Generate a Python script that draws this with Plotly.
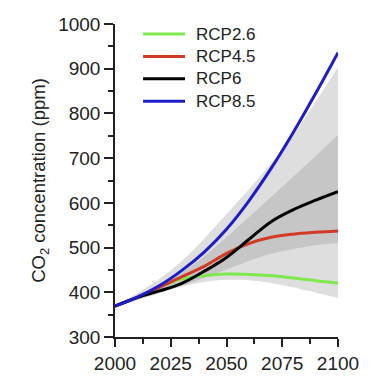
import plotly.graph_objects as go

years = [2000, 2010, 2020, 2030, 2040, 2050, 2060, 2070, 2080, 2090, 2100]

rcp26 = [369, 389, 412, 430, 437, 441, 440, 437, 432, 426, 421]
rcp45 = [369, 389, 411, 435, 458, 487, 509, 523, 530, 534, 537]
rcp60 = [369, 388, 403, 420, 447, 478, 518, 558, 585, 606, 625]
rcp85 = [369, 389, 415, 449, 490, 541, 604, 677, 758, 845, 936]

outer_upper = [372, 398, 430, 470, 520, 575, 630, 688, 752, 826, 904]
outer_lower = [366, 382, 398, 413, 423, 428, 427, 421, 411, 399, 387]
inner_upper = [370, 392, 416, 444, 480, 523, 568, 613, 659, 705, 752]
inner_lower = [368, 385, 400, 415, 432, 451, 470, 486, 497, 505, 510]

names = ["RCP2.6", "RCP4.5", "RCP6", "RCP8.5"]
series = [rcp26, rcp45, rcp60, rcp85]
colors = ["#7ee84c", "#d23a26", "#000000", "#1c1ccc"]

fig = go.Figure()

def band(lower, upper, color):
    fig.add_trace(go.Scatter(x=years, y=lower, mode="lines",
                             line=dict(width=0, shape="spline", smoothing=0.8),
                             showlegend=False, hoverinfo="skip"))
    fig.add_trace(go.Scatter(x=years, y=upper, mode="lines",
                             line=dict(width=0, shape="spline", smoothing=0.8),
                             fill="tonexty", fillcolor=color, showlegend=False, hoverinfo="skip"))

band(outer_lower, outer_upper, "#dedede")
band(inner_lower, inner_upper, "#c6c6c6")

for n, s, c in zip(names, series, colors):
    fig.add_trace(go.Scatter(x=years, y=s, mode="lines", name=n, showlegend=False,
                             line=dict(color=c, width=3, shape="spline")))

# legend drawn as key lines + labels in paper coordinates
leg_y0, leg_dy = 0.968, 0.0715
for i, (n, c) in enumerate(zip(names, colors)):
    yy = leg_y0 - i * leg_dy
    fig.add_shape(type="line", xref="paper", yref="paper", x0=0.126, x1=0.314, y0=yy, y1=yy,
                  line=dict(color=c, width=3))
    fig.add_annotation(xref="paper", yref="paper", x=0.355, y=yy, text=n, showarrow=False,
                       xanchor="left", yanchor="middle", font=dict(size=17, color="#222"))

font = "Liberation Sans, Arial, sans-serif"
tick_col = "#222"
fig.update_layout(
    width=371, height=386,
    margin=dict(l=115, r=33, t=24, b=49),
    paper_bgcolor="white", plot_bgcolor="white",
    font=dict(family=font, size=19, color=tick_col),
    showlegend=False,
    xaxis=dict(range=[2000, 2100], tickmode="array", tickvals=[2000, 2025, 2050, 2075, 2100],
               showgrid=False, zeroline=False, showline=True, linecolor=tick_col, linewidth=1.5,
               ticks="outside", ticklen=8, tickwidth=1.5, tickcolor=tick_col,
               minor=dict(tickvals=[2012.5, 2037.5, 2062.5, 2087.5], ticks="outside",
                          ticklen=5, tickwidth=1.5, tickcolor=tick_col),
               tickfont=dict(size=19)),
    yaxis=dict(range=[300, 1000], tickmode="array", tickvals=list(range(300, 1001, 100)),
               showgrid=False, zeroline=False, showline=True, linecolor=tick_col, linewidth=1.5,
               ticks="outside", ticklen=9, tickwidth=1.5, tickcolor=tick_col,
               minor=dict(tickvals=list(range(350, 1000, 100)), ticks="outside",
                          ticklen=5, tickwidth=1.5, tickcolor=tick_col),
               tickfont=dict(size=19),
               title=dict(text="CO<sub>2</sub> concentration (ppm)", font=dict(size=18.5), standoff=8)),
)

fig.write_html("out.html", config={"displayModeBar": False},
               post_script="document.body.style.margin='0';")
